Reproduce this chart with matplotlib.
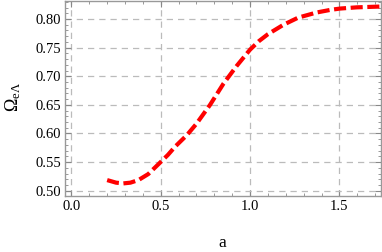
import matplotlib
matplotlib.use("Agg")
import matplotlib.pyplot as plt
from matplotlib.ticker import MultipleLocator

a_vals = [0.20, 0.25, 0.29, 0.33, 0.375, 0.43, 0.496, 0.54, 0.58, 0.646, 0.70, 0.776, 0.851, 0.925, 1.0,
          1.05, 1.10, 1.187, 1.27, 1.374, 1.45, 1.504, 1.597, 1.70, 1.728]
omega_vals = [0.5185, 0.5140, 0.5127, 0.5140, 0.5185, 0.5290, 0.549, 0.5625, 0.5768, 0.597, 0.617, 0.650,
              0.687, 0.718, 0.7465, 0.7615, 0.7735, 0.790, 0.8025, 0.8115, 0.8160, 0.8183, 0.8204, 0.8215, 0.8218]
x_ticks = [0.0, 0.5, 1.0, 1.5]
y_ticks = [0.50, 0.55, 0.60, 0.65, 0.70, 0.75, 0.80]

plt.rcParams['font.family'] = 'serif'
plt.rcParams['font.serif'] = ['Liberation Serif']
plt.rcParams['mathtext.fontset'] = 'custom'
plt.rcParams['mathtext.rm'] = 'Liberation Serif'
plt.rcParams['mathtext.it'] = 'Liberation Serif'

fig = plt.figure(figsize=(3.82, 2.52), dpi=100)
ax = fig.add_axes([65/382, 1 - 196/252, (381-65)/382, (196-1)/252])

ax.plot(a_vals, omega_vals, color='#ff0000', lw=3.0, dashes=(2.9, 1.1), dash_capstyle='butt',
        solid_joinstyle='round')

ax.set_xlim(-0.036, 1.733)
ax.set_ylim(0.4907, 0.8315)
ax.set_xticks(x_ticks)
ax.set_xticklabels([f"{v:.1f}" for v in x_ticks])
ax.set_yticks(y_ticks)
ax.set_yticklabels([f"{v:.2f}" for v in y_ticks])
ax.xaxis.set_minor_locator(MultipleLocator(0.1))
ax.yaxis.set_minor_locator(MultipleLocator(0.01))
ax.grid(True, which='major', color='#bbbbbb', linestyle=(0, (5, 4)), linewidth=0.9)
ax.tick_params(which='both', direction='in', top=True, right=True, colors='#888888',
               labelcolor='black', labelsize=10.5, pad=3)
ax.tick_params(which='major', length=4, width=0.8)
ax.tick_params(which='minor', length=2, width=0.6)
for s in ax.spines.values():
    s.set_color('#999999')
    s.set_linewidth(1.0)

fig.text(222/382, 1 - 243/252, 'a', ha='center', va='center', fontsize=12.5)
fig.text(13/382, 1 - 97/252, r'$\Omega_{\mathrm{e}\Lambda}$', ha='center', va='center', fontsize=13, rotation=90)

fig.savefig('out.png', dpi=100)
